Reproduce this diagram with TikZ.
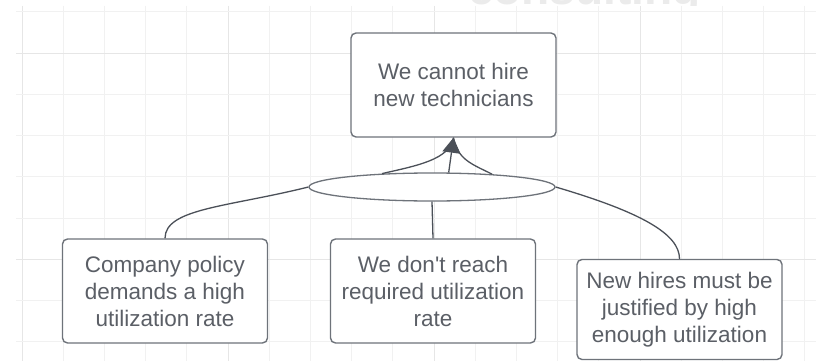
\documentclass[tikz,border=0pt]{standalone}
\usepackage{fontspec}
\setmainfont{Liberation Sans}
\usetikzlibrary{shapes.geometric,arrows.meta}

\definecolor{gridminor}{HTML}{F1F1F1}
\definecolor{gridmajor}{HTML}{E6E6E6}
\definecolor{boxline}{HTML}{6E737A}
\definecolor{linkc}{HTML}{4B5058}
\definecolor{txt}{HTML}{5B5F66}
\definecolor{wmark}{HTML}{EBEBEB}

\begin{document}
\begin{tikzpicture}[x=1pt, y=-1pt,
    box/.style={draw=boxline, line width=1.4pt, rounded corners=5pt, fill=white,
        text=txt, align=center, minimum width=205pt, minimum height=104pt,
        font=\fontsize{22.5}{27}\selectfont},
    link/.style={draw=linkc, line width=1.3pt}]
    \useasboundingbox[fill=white] (0,0) rectangle (816,361);

    % Draw the background grid
    \foreach \i in {0,...,19} {
        \pgfmathsetmacro{\gx}{22+41.2*\i}
        \pgfmathtruncatemacro{\major}{mod(\i,5)==0}
        \ifnum\major=1 \draw[gridmajor, line width=1pt] (\gx,6) -- (\gx,361);
        \else \draw[gridminor, line width=1pt] (\gx,6) -- (\gx,361); \fi
    }
    \foreach \j in {0,...,8} {
        \pgfmathsetmacro{\gy}{12+41.2*\j}
        \pgfmathtruncatemacro{\major}{mod(\j,5)==1}
        \ifnum\major=1 \draw[gridmajor, line width=1pt] (16,\gy) -- (816,\gy);
        \else \draw[gridminor, line width=1pt] (16,\gy) -- (816,\gy); \fi
    }

    % Watermark, cut off at the top
    \begin{scope}
        \clip (0,0) rectangle (816,6);
        \node[anchor=base west, inner sep=0pt, text=wmark,
            font=\fontsize{46}{50}\bfseries\selectfont] (mark) at (468,5) {consulting};
    \end{scope}

    % Draw the effect and the causes
    \node[box] (top) at (453.5,85) {We cannot hire\\new technicians};
    \node[box] (policy) at (165,291) {Company policy\\demands a high\\utilization rate};
    \node[box] (reach) at (433,291) {We don\textquotesingle t reach\\required utilization\\rate};
    \node[box, minimum height=100pt] (hires) at (679.5,309.5) {New hires must be\\justified by high\\enough utilization};

    % Draw the AND ellipse
    \node[ellipse, draw=boxline, line width=1.3pt, fill=white, inner sep=0pt,
        minimum width=246pt, minimum height=28pt] (and) at (432,187) {};

    % Draw the connectors into the ellipse
    \draw[link] (and.west) .. controls +(-80,20) and +(0,-30) .. (policy.north);
    \draw[link] (and.south) -- (reach.north);
    \draw[link] (and.east) .. controls +(85,25) and +(0,-25) .. (hires.north);

    % Draw the connectors up to the effect
    \draw[link] (and.165) .. controls +(35,-8) and +(-4,22) .. (top.south);
    \draw[link] (and.12) .. controls +(-20,-10) and +(4,22) .. (top.south);
    \draw[link, -{Triangle[length=15pt, width=18pt]}] (and.41) -- (top.south);

\end{tikzpicture}
\end{document}
